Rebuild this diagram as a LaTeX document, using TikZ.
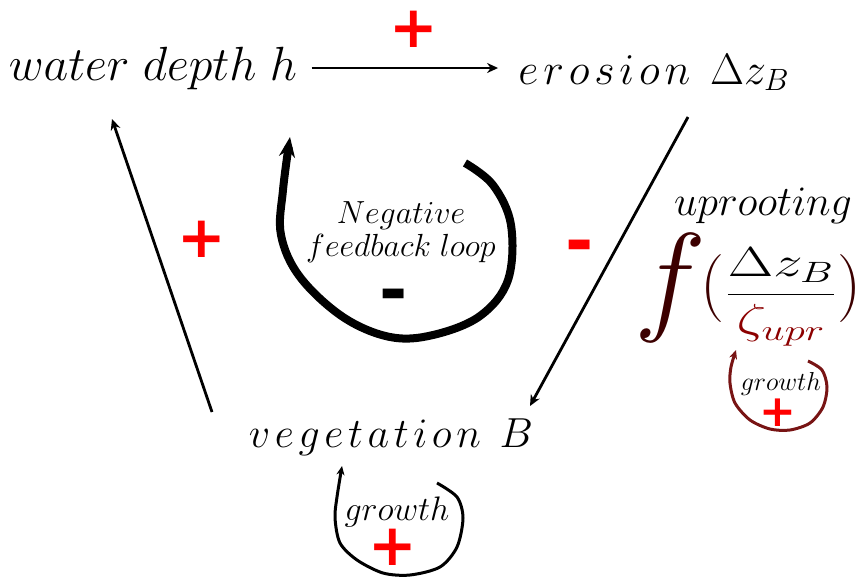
\RequirePackage{fix-cm}
\documentclass[tikz,border=0pt]{standalone}
\usepackage{fontspec}
\usepackage{amsmath}
\usepackage{graphicx}
\usetikzlibrary{arrows.meta}
\newfontfamily\signfont{DejaVu Sans}
\definecolor{signred}{RGB}{255,0,0}
\definecolor{fdark}{RGB}{60,0,0}
\definecolor{zetared}{RGB}{140,0,0}
\definecolor{loopred}{RGB}{120,20,20}

\begin{document}
\begin{tikzpicture}[x=0.5pt, y=-0.5pt,
    lbl/.style={inner sep=0pt},
    arr/.style={-{Stealth[length=5.5pt,width=5pt]}, line width=1.4pt},
    fbloop/.style={-{Stealth[length=10pt,width=8pt]}, line width=4pt},
    growloop/.style={-{Stealth[length=4.5pt,width=4pt]}, line width=1.5pt},
    sign/.style={inner sep=0pt, text=signred, font=\signfont\bfseries\fontsize{29}{30}\selectfont},
    minus/.style={sign, anchor=base, font=\signfont\bfseries\fontsize{34}{34}\selectfont}
]
  \useasboundingbox (0,0) rectangle (859,580);
  % the three quantities
  \node[lbl, anchor=base, font=\fontsize{24}{28}\selectfont] (water) at (153,80) {$water\;depth\;h$};
  \node[lbl, anchor=base, font=\fontsize{22}{26}\selectfont] (erosion) at (654,84)
    {$e\mkern2mu r\mkern2mu o\mkern2mu s\mkern2mu i\mkern2mu o\mkern2mu n\;\,\Delta z_B$};
  \node[lbl, anchor=base, font=\fontsize{21}{25}\selectfont] (veg) at (391,447)
    {$v\mkern2mu e\mkern2mu g\mkern2mu e\mkern2mu t\mkern2mu a\mkern2mu t\mkern2mu i\mkern2mu o\mkern2mu n\;\,B$};
  % uprooting function
  \node[lbl, anchor=base, font=\fontsize{21}{25}\selectfont] (uproot) at (763,215) {$uprooting$};
  \node[lbl, anchor=base, font=\fontsize{61}{70}\selectfont, text=fdark] (ffun) at (670,318) {$f$};
  \node[lbl, anchor=base, font=\fontsize{21}{25}\selectfont] (ratio) at (781,305)
    {{\color{fdark}\fontsize{34}{40}\selectfont$($}\scalebox{1.4}[1]{$\displaystyle\frac{\Delta z_B}{\color{zetared}\zeta_{upr}}$}{\color{fdark}\fontsize{34}{40}\selectfont$)$}};
  \node[lbl, align=center, font=\fontsize{16}{16.5}\selectfont] (negloop) at (401,232) {$Negative$\\$feedback\;loop$};
  \node[lbl, anchor=base, font=\fontsize{17}{20}\selectfont] (growB) at (397,520) {$growth$};
  \node[lbl, anchor=base, font=\fontsize{13}{16}\selectfont] (growU) at (781,390) {$growth$};

  % signs
  \node[sign] (plusWE) at (414,29) {+};
  \node[sign] (plusVW) at (202,239) {+};
  \node[minus] (minusEV) at (580,264) {-};
  \node[minus, text=black] (minusloop) at (394,313) {-};
  \node[sign] (plusgrowB) at (393,547) {+};
  \node[sign, font=\signfont\bfseries\fontsize{22}{22}\selectfont] (plusgrowU) at (778,413) {+};

  % connectors
  \coordinate (vegout) at (212,412);
  \coordinate (waterin) at (112,119);
  \coordinate (erosout) at (688,117);
  \coordinate (vegin) at (530,406);
  \draw[arr, shorten <=7pt, shorten >=10pt] (water.east) -- (water.east -| erosion.west);
  \draw[arr] (erosout) -- (vegin);
  \draw[arr] (vegout) -- (waterin);

  % loops
  \draw[fbloop] plot[smooth, tension=0.6] coordinates {(465,163) (493,185) (511,225) (508,280) (480,316) (433,335) (390,337) (343,317) (300,277) (281,235) (283,190) (290,137)};
  \draw[growloop] plot[smooth] coordinates {(437,483) (457,497) (463,518) (457,547) (440,567) (410,575) (383,573) (357,560) (340,543) (335,518) (337,497) (342,466)};
  \draw[growloop, loopred] plot[smooth] coordinates {(808,361) (822,370) (827,387) (823,407) (810,423) (790,430) (770,429) (750,420) (735,403) (730,383) (731,367) (736,350)};
\end{tikzpicture}
\end{document}
